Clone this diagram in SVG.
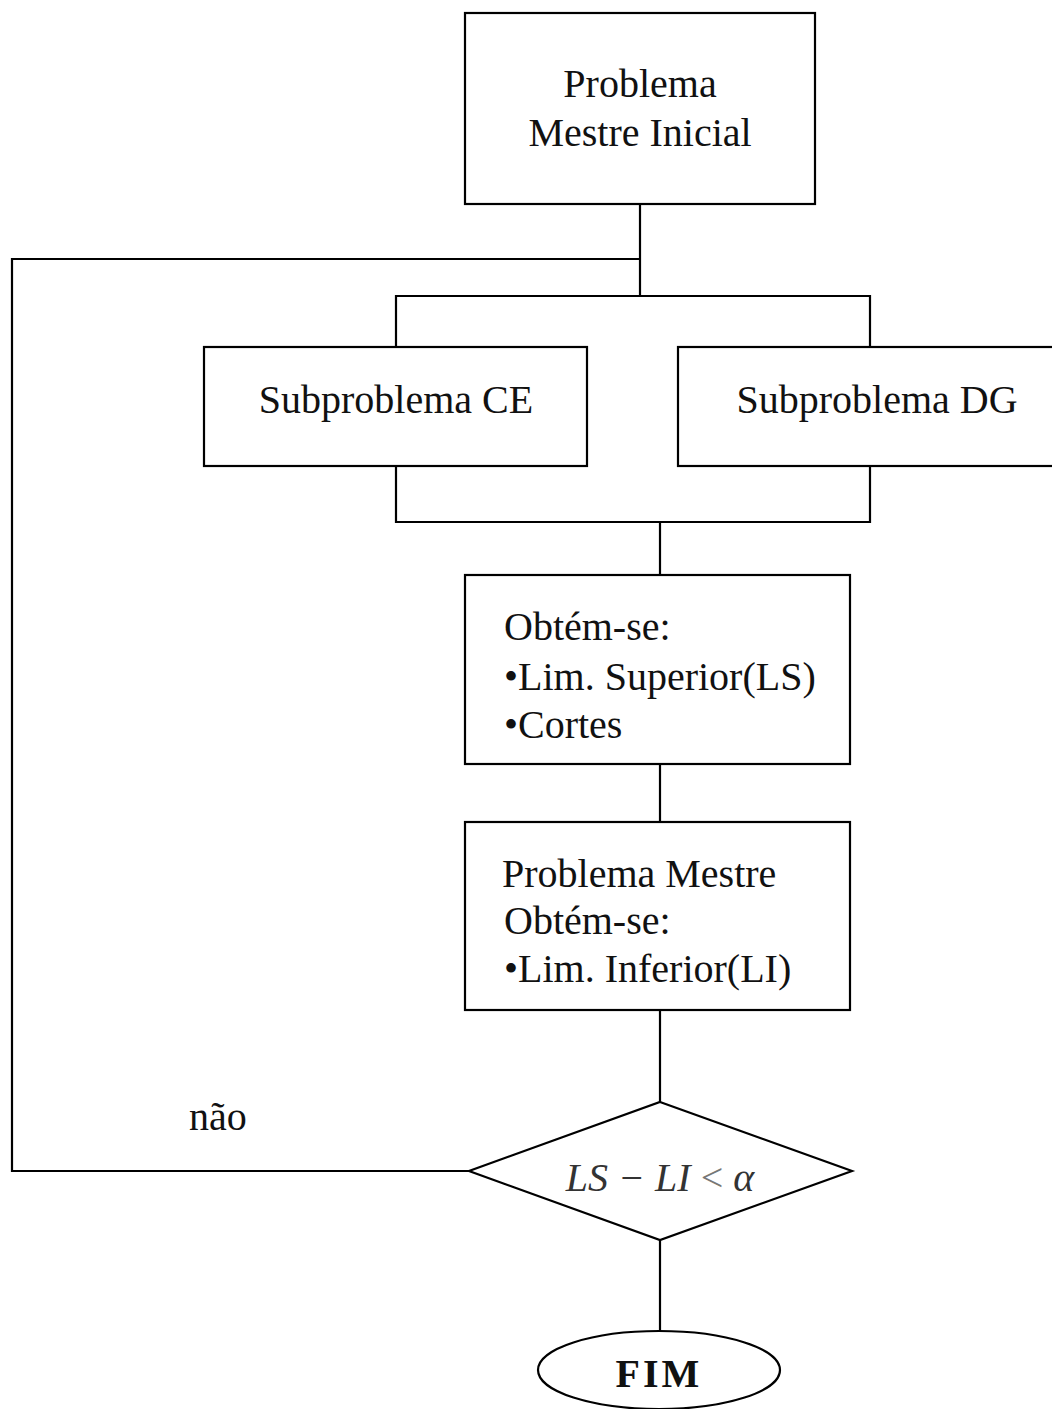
<svg xmlns="http://www.w3.org/2000/svg" width="1052" height="1409" viewBox="0 0 1052 1409">
  <style>
    .box { fill: #ffffff; stroke: #000000; stroke-width: 2.2; }
    .wire { fill: none; stroke: #000000; stroke-width: 2.2; }
    .t { font-family: "Liberation Serif", "Times New Roman", serif; font-size: 40px; fill: #111111; }
    .c { text-anchor: middle; }
    .math { font-family: "Liberation Serif", "Times New Roman", serif; font-size: 40px; font-style: italic; fill: #333333; }
  </style>
  <rect width="1052" height="1409" fill="#ffffff"/>

  <!-- connectors -->
  <g id="connectors">
    <path class="wire" d="M640 204 V296"/>
    <path class="wire" d="M396 347 V296 H870 V347"/>
    <path class="wire" d="M396 466 V522 H870 V466"/>
    <path class="wire" d="M660 522 V575"/>
    <path class="wire" d="M660 764 V822"/>
    <path class="wire" d="M660 1010 V1102"/>
    <path class="wire" d="M660 1240 V1331"/>
    <!-- "não" loop back to the subproblems -->
    <path class="wire" d="M469 1171 H12 V259 H640"/>
  </g>

  <g id="mestre-inicial">
    <rect class="box" x="465" y="13" width="350" height="191"/>
    <text class="t c" x="640" y="97">Problema</text>
    <text class="t c" x="640" y="146">Mestre Inicial</text>
  </g>

  <g id="sub-ce">
    <rect class="box" x="204" y="347" width="383" height="119"/>
    <text class="t c" x="396" y="413">Subproblema CE</text>
  </g>

  <g id="sub-dg">
    <rect class="box" x="678" y="347" width="390" height="119"/>
    <text class="t c" x="877" y="413">Subproblema DG</text>
  </g>

  <g id="limite-superior">
    <rect class="box" x="465" y="575" width="385" height="189"/>
    <text class="t" x="504" y="640">Obtém-se:</text>
    <text class="t" x="504" y="690">•Lim. Superior(LS)</text>
    <text class="t" x="504" y="738">•Cortes</text>
  </g>

  <g id="mestre">
    <rect class="box" x="465" y="822" width="385" height="188"/>
    <text class="t" x="502" y="887">Problema Mestre</text>
    <text class="t" x="504" y="934">Obtém-se:</text>
    <text class="t" x="504" y="982">•Lim. Inferior(LI)</text>
  </g>

  <g id="teste">
    <polygon class="box" points="660,1102 852,1171 660,1240 469,1171"/>
    <text class="math c" x="660" y="1191">LS − LI <tspan font-style="normal" fill="#777777">&lt;</tspan> α</text>
  </g>

  <g id="nao">
    <text class="t" x="189" y="1130" font-size="38">não</text>
  </g>

  <g id="fim">
    <ellipse class="box" cx="659" cy="1370" rx="121" ry="39"/>
    <text class="t c" x="659" y="1387" font-size="54" font-weight="bold" letter-spacing="3" fill="#000000">FIM</text>
  </g>
</svg>
